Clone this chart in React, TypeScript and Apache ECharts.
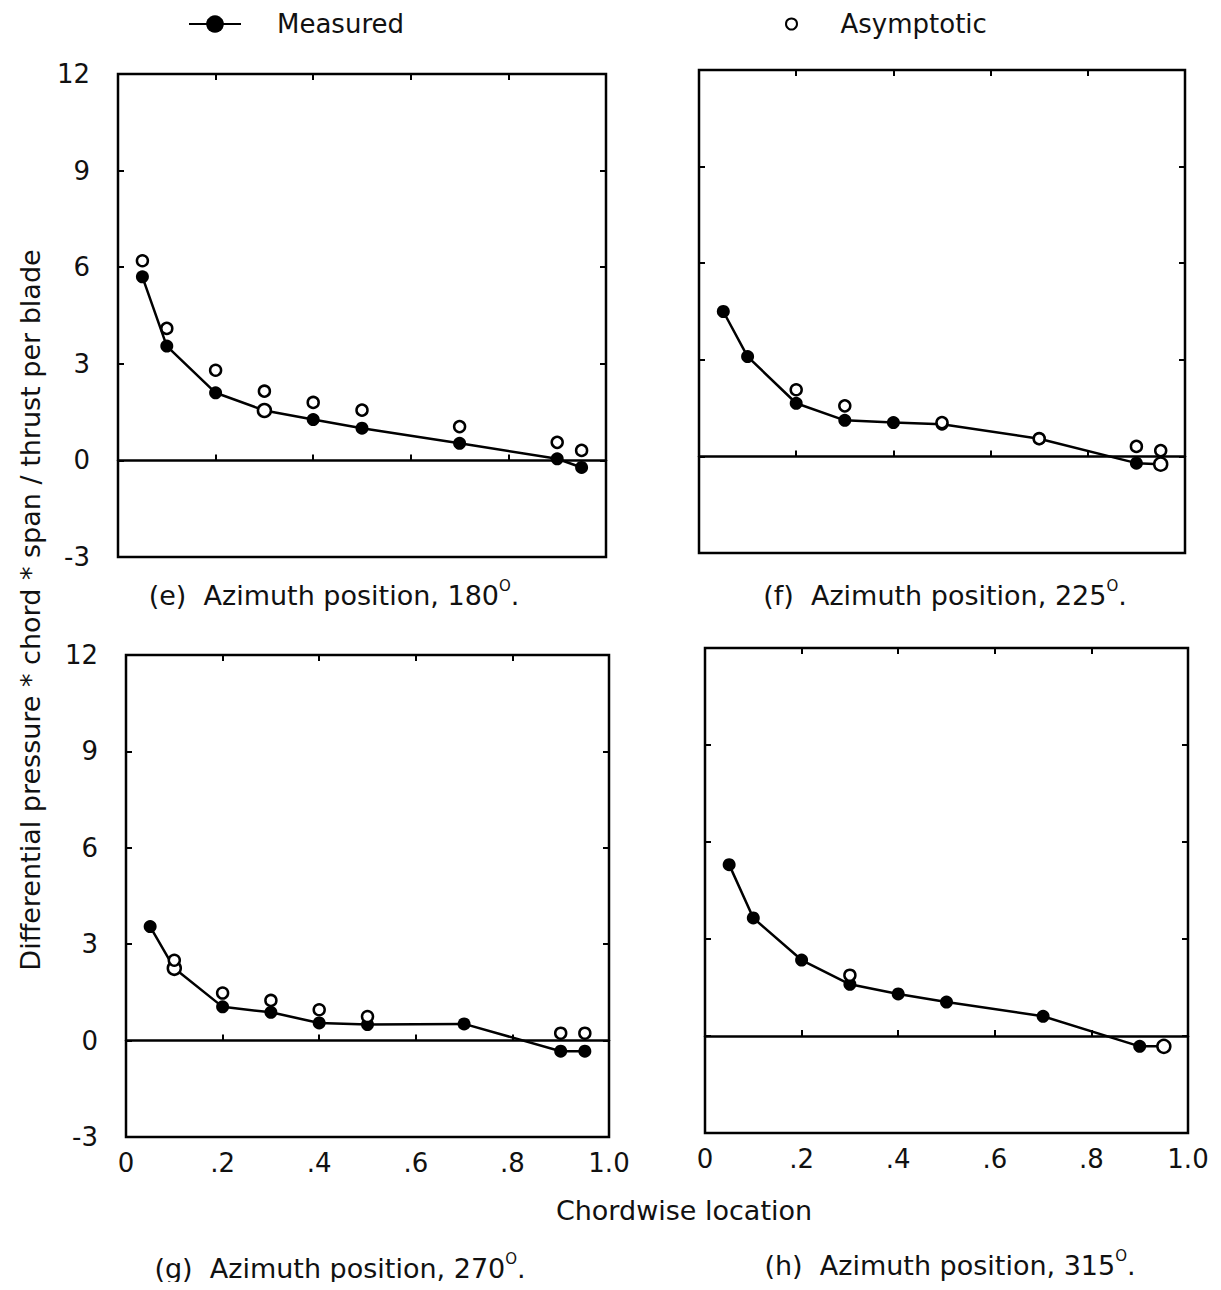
import React, { useEffect, useRef } from 'react';
import * as echarts from 'echarts';

// Chordwise stations (fraction of chord)
const chordwise = [0.05, 0.1, 0.2, 0.3, 0.4, 0.5, 0.7, 0.9, 0.95];
const xTickLabels = ['0', '.2', '.4', '.6', '.8', '1.0'];

// (e) Azimuth 180
const measuredE = [5.7, 3.55, 2.1, 1.55, 1.27, 1.0, 0.53, 0.05, -0.22];
const asymptoticE = [6.2, 4.1, 2.8, 2.15, 1.8, 1.56, 1.05, 0.56, 0.31];
const hollowE = [3];
// (f) Azimuth 225
const measuredF = [4.5, 3.1, 1.65, 1.12, 1.05, 1.0, 0.55, -0.21, -0.24];
const asymptoticF = [null, null, 2.07, 1.57, null, 1.05, 0.55, 0.31, 0.18];
const hollowF = [8];
// (g) Azimuth 270
const measuredG = [3.55, 2.25, 1.05, 0.88, 0.55, 0.5, 0.52, -0.33, -0.33];
const asymptoticG = [null, 2.5, 1.48, 1.25, 0.96, 0.75, null, 0.23, 0.23];
const hollowG = [1];
// (h) Azimuth 315
const measuredH = [5.3, 3.65, 2.35, 1.6, 1.3, 1.05, 0.61, -0.32, -0.32];
const asymptoticH = [null, null, null, 1.88, null, null, null, null, null];
const hollowH = [8];

const azimuths = ['180', '225', '270', '315'];
const letters = ['(e)', '(f)', '(g)', '(h)'];

const FONT = 'DejaVu Sans';

const panels = [
  { m: measuredE, a: asymptoticE, h: hollowE, grid: { left: 110, top: 66, width: 488, height: 483 }, yLabels: true, xLabels: false, cap: [326, 587] },
  { m: measuredF, a: asymptoticF, h: hollowF, grid: { left: 691, top: 62, width: 486, height: 483 }, yLabels: false, xLabels: false, cap: [937, 587] },
  { m: measuredG, a: asymptoticG, h: hollowG, grid: { left: 118, top: 647, width: 483, height: 482 }, yLabels: true, xLabels: true, cap: [332, 1260] },
  { m: measuredH, a: asymptoticH, h: hollowH, grid: { left: 697, top: 640, width: 483, height: 485 }, yLabels: false, xLabels: true, cap: [942, 1257] },
];

export default function App() {
  const ref = useRef<HTMLDivElement>(null);
  useEffect(() => {
    if (!ref.current) return;
    const chart = echarts.init(ref.current, null, { renderer: 'svg' });
    const grids: any[] = [];
    const xAxes: any[] = [];
    const yAxes: any[] = [];
    const series: any[] = [];
    const graphics: any[] = [];

    panels.forEach((p, i) => {
      grids.push({ ...p.grid, show: true, borderColor: '#000', borderWidth: 2.5, containLabel: false });
      const xBase = xAxes.length;
      // zero-line axis
      xAxes.push({
        gridIndex: i, type: 'value', min: 0, max: 1, interval: 0.2, position: 'bottom',
        axisLine: { onZero: true, lineStyle: { color: '#000', width: 2.5 } },
        axisTick: { inside: true, length: 6, lineStyle: { color: '#000', width: 2 } },
        axisLabel: { show: false }, splitLine: { show: false },
      });
      // top frame ticks
      xAxes.push({
        gridIndex: i, type: 'value', min: 0, max: 1, interval: 0.2, position: 'top',
        axisLine: { show: false, onZero: false },
        axisTick: { inside: true, length: 6, lineStyle: { color: '#000', width: 2 } },
        axisLabel: { show: false }, splitLine: { show: false },
      });
      // bottom labels
      xAxes.push({
        gridIndex: i, type: 'value', min: 0, max: 1, interval: 0.2, position: 'bottom',
        axisLine: { show: false, onZero: false },
        axisTick: { show: false },
        axisLabel: {
          show: p.xLabels, margin: 13, color: '#111', fontFamily: FONT, fontSize: 26,
          formatter: (v: number) => xTickLabels[Math.round(v / 0.2)],
        },
        splitLine: { show: false },
      });
      const yBase = yAxes.length;
      yAxes.push({
        gridIndex: i, type: 'value', min: -3, max: 12, interval: 3, position: 'left',
        axisLine: { show: false, onZero: false },
        axisTick: { inside: true, length: 6, lineStyle: { color: '#000', width: 2 } },
        axisLabel: { show: p.yLabels, margin: 28, color: '#111', fontFamily: FONT, fontSize: 26 },
        splitLine: { show: false },
      });
      yAxes.push({
        gridIndex: i, type: 'value', min: -3, max: 12, interval: 3, position: 'right',
        axisLine: { show: false, onZero: false },
        axisTick: { inside: true, length: 6, lineStyle: { color: '#000', width: 2 } },
        axisLabel: { show: false }, splitLine: { show: false },
      });
      series.push({
        name: 'Measured', type: 'line', xAxisIndex: xBase, yAxisIndex: yBase,
        symbol: 'circle', symbolSize: 13, z: 3,
        lineStyle: { color: '#000', width: 2.5 },
        itemStyle: { color: '#000' },
        data: chordwise.map((x, k) => p.h.includes(k)
          ? { value: [x, p.m[k]], itemStyle: { color: '#fff', borderColor: '#000', borderWidth: 2.5 } }
          : { value: [x, p.m[k]] }),
      });
      series.push({
        name: 'Asymptotic', type: 'scatter', xAxisIndex: xBase, yAxisIndex: yBase,
        symbol: 'circle', symbolSize: 11, z: 4,
        itemStyle: { color: '#fff', borderColor: '#000', borderWidth: 2.5, opacity: 1 },
        data: chordwise.map((x, k) => [x, p.a[k]]).filter((d) => d[1] != null),
      });
      graphics.push({
        type: 'text', x: p.cap[0], y: p.cap[1],
        style: {
          text: `{t|${letters[i]}  Azimuth position, ${azimuths[i]}}{s|O}{t|.}`,
          align: 'center', verticalAlign: 'middle',
          rich: {
            t: { fontFamily: FONT, fontSize: 27, fill: '#111', lineHeight: 34 },
            s: { fontFamily: FONT, fontSize: 15, fill: '#111', padding: [0, 0, 18, 0], lineHeight: 34 },
          },
        },
      });
    });

    graphics.push({
      type: 'text', x: 676, y: 1202,
      style: { text: 'Chordwise location', fontFamily: FONT, fontSize: 27, fill: '#111', align: 'center', verticalAlign: 'middle' },
    });
    graphics.push({
      type: 'text', x: 22, y: 602, rotation: Math.PI / 2,
      style: { text: 'Differential pressure * chord * span / thrust per blade', fontFamily: FONT, fontSize: 27, fill: '#111', align: 'center', verticalAlign: 'middle' },
    });

    chart.setOption({
      animation: false,
      backgroundColor: '#fff',
      legend: [
        {
          data: ['Measured'], left: 180, top: 3, padding: 0, itemWidth: 52, itemHeight: 22,
          textStyle: { fontFamily: FONT, fontSize: 26, color: '#111', padding: [0, 0, 0, 31] },
        },
        {
          data: ['Asymptotic'], left: 777, top: 3, padding: 0, itemWidth: 12, itemHeight: 11,
          textStyle: { fontFamily: FONT, fontSize: 26, color: '#111', padding: [0, 0, 0, 38] },
        },
      ],
      grid: grids,
      xAxis: xAxes,
      yAxis: yAxes,
      series,
      graphic: graphics,
    });
    return () => chart.dispose();
  }, []);
  return <div ref={ref} style={{ width: 1205, height: 1274 }} />;
}
